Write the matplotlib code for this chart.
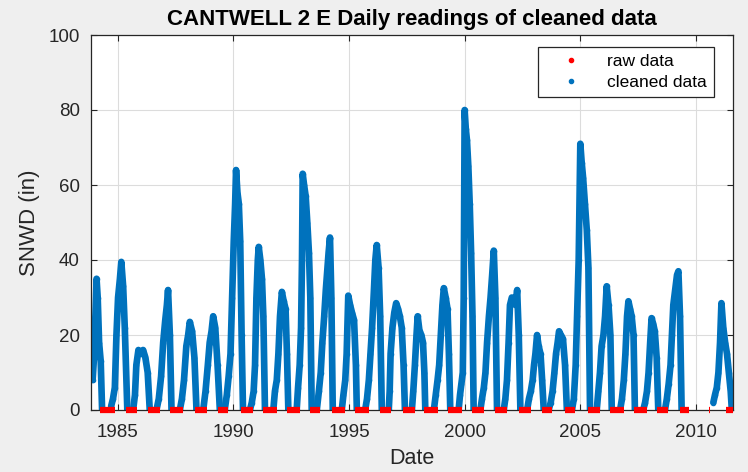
import numpy as np
import matplotlib
matplotlib.use('Agg')
from matplotlib import pyplot as plt
from matplotlib.lines import Line2D

plt.rcParams['font.family'] = ['Liberation Sans', 'DejaVu Sans']

# 每个冬季的读数 (年份小数, 积雪深度 in)
winter_dates = [
    [1983.86, 1983.92, 1983.98, 1984.04, 1984.09, 1984.14, 1984.2, 1984.27, 1984.33],
    [1984.72, 1984.8, 1984.88, 1984.95, 1985.02, 1985.1, 1985.16, 1985.24, 1985.31, 1985.42],
    [1985.67, 1985.75, 1985.81, 1985.9, 1986.0, 1986.1, 1986.2, 1986.3, 1986.39],
    [1986.68, 1986.78, 1986.88, 1986.97, 1987.06, 1987.13, 1987.18, 1987.26, 1987.33],
    [1987.69, 1987.78, 1987.87, 1987.97, 1988.05, 1988.12, 1988.22, 1988.32, 1988.41],
    [1988.7, 1988.8, 1988.9, 1988.98, 1989.06, 1989.13, 1989.22, 1989.32, 1989.42],
    [1989.63, 1989.72, 1989.8, 1989.88, 1989.95, 1990.02, 1990.08, 1990.12, 1990.18, 1990.24, 1990.3, 1990.36, 1990.42],
    [1990.72, 1990.8, 1990.88, 1990.94, 1991.0, 1991.06, 1991.1, 1991.17, 1991.24, 1991.3, 1991.37],
    [1991.73, 1991.8, 1991.88, 1991.95, 1992.02, 1992.1, 1992.18, 1992.26, 1992.32, 1992.38],
    [1992.74, 1992.8, 1992.87, 1992.93, 1992.97, 1993.0, 1993.06, 1993.13, 1993.2, 1993.27, 1993.33, 1993.39],
    [1993.61, 1993.7, 1993.78, 1993.85, 1993.93, 1994.0, 1994.06, 1994.12, 1994.18, 1994.24, 1994.3],
    [1994.69, 1994.76, 1994.84, 1994.9, 1994.97, 1995.05, 1995.13, 1995.22, 1995.3, 1995.34],
    [1995.7, 1995.78, 1995.86, 1995.93, 1996.0, 1996.08, 1996.14, 1996.2, 1996.28, 1996.35, 1996.42],
    [1996.72, 1996.76, 1996.8, 1996.88, 1996.96, 1997.04, 1997.12, 1997.2, 1997.28, 1997.36, 1997.42],
    [1997.72, 1997.78, 1997.85, 1997.92, 1997.97, 1998.05, 1998.13, 1998.2, 1998.26, 1998.3],
    [1998.67, 1998.75, 1998.83, 1998.9, 1998.97, 1999.04, 1999.1, 1999.18, 1999.26, 1999.32, 1999.38],
    [1999.74, 1999.8, 1999.86, 1999.92, 1999.96, 2000.0, 2000.05, 2000.1, 2000.16, 2000.22, 2000.28, 2000.34, 2000.39],
    [2000.68, 2000.75, 2000.83, 2000.9, 2000.97, 2001.05, 2001.12, 2001.19, 2001.26, 2001.33, 2001.4],
    [2001.69, 2001.76, 2001.83, 2001.9, 2001.96, 2002.04, 2002.12, 2002.2, 2002.27, 2002.34, 2002.41],
    [2002.7, 2002.78, 2002.86, 2002.94, 2003.0, 2003.06, 2003.13, 2003.2, 2003.28, 2003.35, 2003.42],
    [2003.63, 2003.72, 2003.8, 2003.88, 2003.95, 2004.02, 2004.08, 2004.16, 2004.25, 2004.34, 2004.42],
    [2004.64, 2004.72, 2004.8, 2004.86, 2004.93, 2005.0, 2005.06, 2005.12, 2005.2, 2005.28, 2005.35, 2005.42],
    [2005.71, 2005.78, 2005.85, 2005.92, 2006.0, 2006.07, 2006.14, 2006.22, 2006.3, 2006.36],
    [2006.72, 2006.8, 2006.88, 2006.95, 2007.02, 2007.08, 2007.15, 2007.22, 2007.3, 2007.36],
    [2007.72, 2007.8, 2007.88, 2007.95, 2008.02, 2008.08, 2008.15, 2008.22, 2008.3, 2008.37],
    [2008.66, 2008.74, 2008.82, 2008.9, 2008.96, 2009.02, 2009.1, 2009.18, 2009.24, 2009.31, 2009.38],
    [2010.75, 2010.82, 2010.9, 2010.97, 2011.04, 2011.1, 2011.18, 2011.26, 2011.34, 2011.42, 2011.5, 2011.55],
]
winter_snwd = [
    [10, 8, 14, 25, 35, 30, 18, 13, 0],
    [1, 3, 6, 20, 30, 35, 39.5, 33, 22, 0],
    [0, 4, 12, 16, 15, 16, 14, 10, 0],
    [0, 3, 9, 18, 24, 28, 32, 20, 0],
    [0, 3, 8, 17, 20, 23.5, 21, 14, 0],
    [0, 5, 12, 18, 21, 25, 22, 12, 0],
    [0, 4, 9, 15, 30, 45, 55, 64, 58, 55, 45, 20, 0],
    [0, 2, 5, 12, 30, 40, 43.5, 40, 35, 25, 0],
    [0, 5, 8, 15, 25, 31.5, 29, 27, 15, 0],
    [0, 6, 12, 22, 40, 63, 60, 57, 50, 42, 30, 0],
    [0, 5, 10, 18, 25, 32, 37, 42, 46, 30, 0],
    [0, 4, 8, 15, 30.5, 28, 26, 24, 12, 0],
    [0, 3, 8, 15, 22, 32, 40, 44, 38, 25, 0],
    [0, 5, 15, 22, 26, 28.5, 27, 25, 22, 12, 0],
    [0, 5, 12, 20, 25, 21, 20, 18, 10, 0],
    [0, 4, 8, 12, 20, 28, 32.5, 30, 27, 15, 0],
    [0, 4, 7, 10, 30, 80, 75, 72, 65, 55, 42, 25, 0],
    [0, 3, 6, 10, 18, 25, 30, 36, 42.5, 30, 0],
    [0, 3, 8, 18, 28, 30, 29, 28, 32, 20, 0],
    [0, 3, 5, 8, 12, 15, 20, 17, 15, 8, 0],
    [0, 2, 5, 10, 15, 18, 21, 20, 19, 12, 0],
    [0, 3, 12, 25, 40, 71, 66, 62, 55, 48, 38, 0],
    [0, 5, 10, 17, 20, 25, 33, 28, 20, 0],
    [0, 3, 8, 15, 25, 29, 27, 25, 20, 0],
    [0, 2, 5, 10, 18, 24.5, 23, 21, 14, 0],
    [0, 3, 7, 12, 20, 28, 32, 36, 37, 25, 0],
    [2, 4, 6, 10, 18, 28.5, 22, 18, 15, 10, 5, 0],
]

# 原始数据中夏季为 0 的区间
raw_zero_start = [1984.26, 1985.35, 1986.32, 1987.26, 1988.34, 1989.35, 1990.35, 1991.3, 1992.31,
                  1993.32, 1994.25, 1995.27, 1996.35, 1997.35, 1998.25, 1999.3, 2000.34, 2001.33,
                  2002.34, 2003.35, 2004.35, 2005.35, 2006.3, 2007.3, 2008.3, 2009.3, 2010.55, 2011.3]
raw_zero_end = [1984.87, 1985.82, 1986.83, 1987.84, 1988.85, 1989.78, 1990.87, 1991.88, 1992.89,
                1993.76, 1994.84, 1995.85, 1996.82, 1997.86, 1998.85, 1999.89, 2000.83, 2001.84,
                2002.85, 2003.78, 2004.76, 2005.86, 2006.87, 2007.87, 2008.81, 2009.7, 2010.6, 2011.58]

year_ticks = [1985, 1990, 1995, 2000, 2005, 2010]
snwd_ticks = [0, 20, 40, 60, 80, 100]

blue = '#0072BD'
red = '#FF0000'

fig = plt.figure(figsize=(7.48, 4.72), dpi=100, facecolor='#efefef')
ax = fig.add_axes([91/748, 62/472, 642/748, 375/472])
ax.set_facecolor('white')

for d, v in zip(winter_dates, winter_snwd):
    ax.plot(d, v, '-', color=blue, lw=4.8, solid_joinstyle='round', solid_capstyle='round')
    ax.plot(d, v, '.', color=blue, ms=6)

ax.hlines(np.zeros(len(raw_zero_start)), raw_zero_start, raw_zero_end,
          colors=red, lw=4.5, clip_on=False, zorder=3)

ax.set_xlim(1983.85, 2011.6)
ax.set_ylim(0, 100)
ax.set_xticks(year_ticks)
ax.set_xticklabels([str(y) for y in year_ticks])
ax.set_yticks(snwd_ticks)
ax.grid(True, color='#dcdcdc', lw=0.8)
ax.set_axisbelow(True)
ax.tick_params(direction='in', top=True, right=True, length=4, width=0.8,
               labelsize=13.5, colors='#262626')
ax.tick_params(axis='x', pad=10)
ax.tick_params(axis='y', pad=8)
for s in ax.spines.values():
    s.set_color('#262626')
    s.set_linewidth(0.9)

ax.set_title('CANTWELL 2 E Daily readings of cleaned data', fontsize=16, fontweight='bold',
             color='black', pad=7)
ax.set_xlabel('Date', fontsize=15.5, color='#262626', labelpad=5)
ax.set_ylabel('SNWD (in)', fontsize=16, color='#262626', labelpad=6)

handles = [Line2D([], [], ls='none', marker='.', color=red, ms=6),
           Line2D([], [], ls='none', marker='.', color=blue, ms=6)]
leg = ax.legend(handles, ['raw data', 'cleaned data'], loc='upper right',
                bbox_to_anchor=(0.9704, 0.968), borderaxespad=0, fontsize=12.5,
                handlelength=3.0, handletextpad=0.6, labelspacing=0.35,
                fancybox=False, framealpha=1, edgecolor='#262626')
leg.get_frame().set_linewidth(0.9)

plt.savefig('out.png', dpi=100, facecolor=fig.get_facecolor())
